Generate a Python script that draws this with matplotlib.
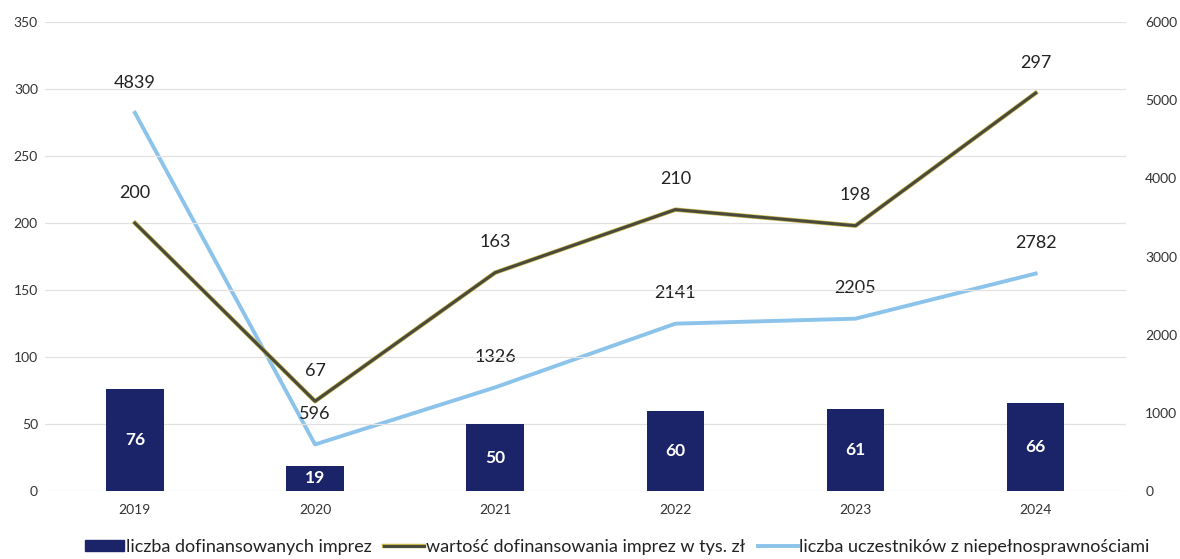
import matplotlib.pyplot as plt
import matplotlib.patheffects as pe
from matplotlib.lines import Line2D
from matplotlib.patches import Patch
import numpy as np

years = ['2019', '2020', '2021', '2022', '2023', '2024']
imprezy = [76, 19, 50, 60, 61, 66]
wartosc = [200, 67, 163, 210, 198, 297]
uczestnicy = [4839, 596, 1326, 2141, 2205, 2782]

plt.rcParams['font.family'] = ['Lato', 'DejaVu Sans']

bar_color = '#1b2468'
dark_line = '#4a4a3c'
blue_line = '#8cc3ea'
text_col = '#333333'

fig = plt.figure(figsize=(11.8, 5.59), dpi=100)
ax = fig.add_axes([0.038, 0.1216, 0.916, 0.839])
ax2 = ax.twinx()

x = np.arange(len(years))
bars = ax.bar(x, imprezy, width=0.32, color=bar_color, zorder=2)
for xi, v in zip(x, imprezy):
    ax.text(xi, v / 2, str(v), ha='center', va='center', color='white',
            fontsize=12.5, fontweight='bold', zorder=5)

ax.plot(x, wartosc, color=dark_line, lw=2.2, zorder=4,
        path_effects=[pe.Stroke(linewidth=3.2, foreground='#c8b84a'), pe.Normal()])
for xi, v in zip(x, wartosc):
    ax.annotate(str(v), (xi, v), xytext=(0, 16), textcoords='offset points',
                ha='center', va='bottom', fontsize=13, color='#222222', zorder=6)

ax2.plot(x, uczestnicy, color=blue_line, lw=2.8, zorder=3)
for xi, v in zip(x, uczestnicy):
    ax2.annotate(str(v), (xi, v), xytext=(0, 16), textcoords='offset points',
                 ha='center', va='bottom', fontsize=13, color='#222222', zorder=10)

ax.set_xlim(-0.5, len(years) - 0.5)
ax.set_ylim(0, 350)
ax.set_yticks(range(0, 351, 50))
ax2.set_ylim(0, 6000)
ax2.set_yticks(range(0, 6001, 1000))
ax.set_xticks(x)
ax.set_xticklabels(years)

ax.grid(axis='y', color='#e2e2e2', lw=0.9, zorder=0)
ax.set_axisbelow(True)
for a in (ax, ax2):
    for s in a.spines.values():
        s.set_visible(False)
    a.tick_params(length=0, labelsize=10, labelcolor=text_col)
ax.tick_params(axis='y', pad=5)
ax.tick_params(axis='x', pad=9)
ax2.tick_params(axis='y', pad=14)

# ax2 drawn above ax; keep ax elements visible
ax.set_zorder(ax2.get_zorder() + 1)
ax.patch.set_visible(False)

handles = [
    Patch(color=bar_color),
    Line2D([0], [0], color=dark_line, lw=2.2,
           path_effects=[pe.Stroke(linewidth=3.2, foreground='#c8b84a'), pe.Normal()]),
    Line2D([0], [0], color=blue_line, lw=2.8),
]
labels = ['liczba dofinansowanych imprez', 'wartość dofinansowania imprez w tys. zł',
          'liczba uczestników z niepełnosprawnościami']
fig.legend(handles, labels, loc='center', bbox_to_anchor=(0.523, 0.022), ncol=3,
           frameon=False, fontsize=13, handlelength=2.2, handleheight=0.6,
           handletextpad=0.1, columnspacing=0.7, labelcolor='#222222')

fig.savefig('out.png', dpi=100)
